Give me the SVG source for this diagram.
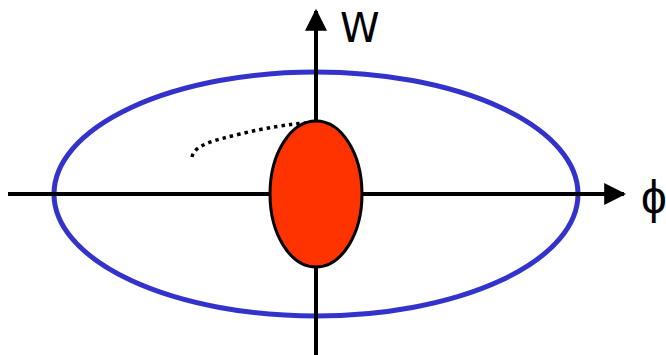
<svg xmlns="http://www.w3.org/2000/svg" width="666" height="355" viewBox="0 0 666 355">
<style>
.axis{stroke:#000;stroke-width:4;fill:none}
.lbl{font-family:"DejaVu Sans","Liberation Sans",sans-serif;font-size:40px;fill:#000}
.phi{font-family:"Liberation Sans","DejaVu Sans",sans-serif;font-size:46px;fill:#000}
</style>
<defs>
<marker id="arr" viewBox="0 0 10 10" refX="9" refY="5" markerWidth="5.5" markerHeight="5.5" markerUnits="strokeWidth" orient="auto">
<path d="M0,0 L10,5 L0,10 z" fill="#000"/>
</marker>
</defs>
<rect width="666" height="355" fill="#fff"/>
<g id="outer-ellipse">
<ellipse cx="316" cy="194" rx="262" ry="122" fill="none" stroke="#3333cc" stroke-width="5"/>
</g>
<g id="connectors">
<line class="axis" x1="8" y1="194" x2="624" y2="194" marker-end="url(#arr)"/>
<line class="axis" x1="316" y1="355" x2="316" y2="11" marker-end="url(#arr)"/>
<path d="M192,157 C194,145 215,140 240,134 S290,124 306,123" fill="none" stroke="#000" stroke-width="3.5" stroke-dasharray="3.5,4"/>
</g>
<g id="inner-ellipse">
<ellipse cx="316" cy="194" rx="46" ry="73" fill="#ff3300" stroke="#000" stroke-width="3"/>
</g>
<g id="label-w">
<text class="lbl" x="340" y="42">W</text>
</g>
<g id="label-phi">
<text class="phi" x="641" y="213">ϕ</text>
</g>
</svg>
